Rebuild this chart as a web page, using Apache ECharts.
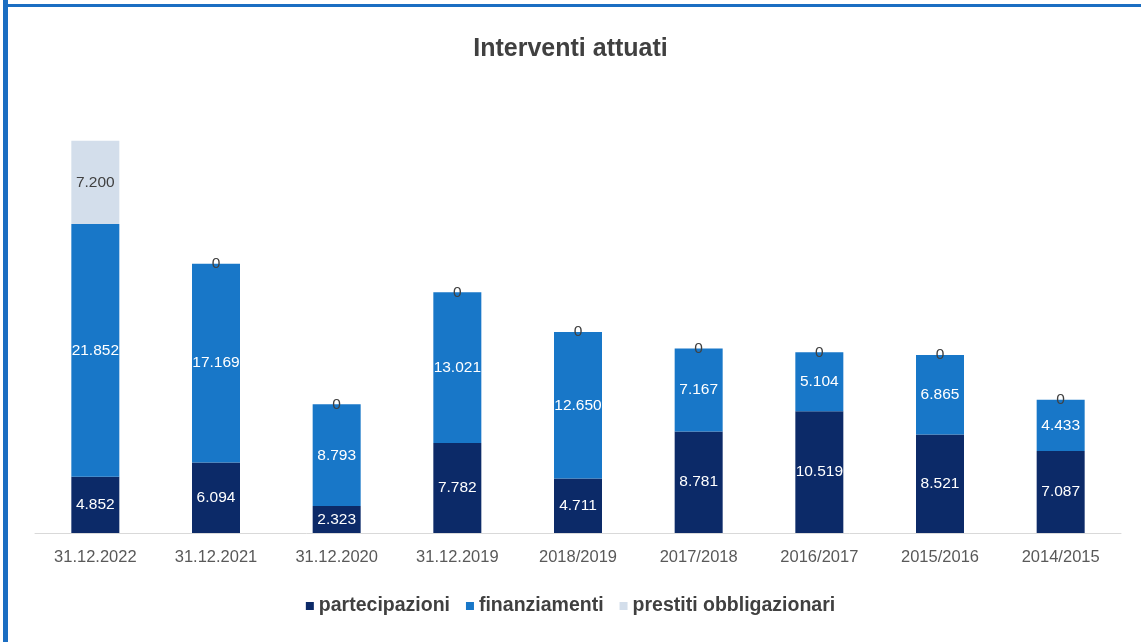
<!DOCTYPE html>
<html>
<head>
<meta charset="utf-8">
<script src="https://cdn.jsdelivr.net/npm/echarts@6/dist/echarts.min.js"></script>
<style>
html,body{margin:0;padding:0;background:#fff;}
#c{width:1141px;height:642px;}
</style>
</head>
<body>
<div id="c"></div>
<script>
const categories = ['31.12.2022','31.12.2021','31.12.2020','31.12.2019','2018/2019','2017/2018','2016/2017','2015/2016','2014/2015'];
const partecipazioni = [4852, 6094, 2323, 7782, 4711, 8781, 10519, 8521, 7087];
const finanziamenti = [21852, 17169, 8793, 13021, 12650, 7167, 5104, 6865, 4433];
const prestiti = [7200, 0, 0, 0, 0, 0, 0, 0, 0];
const seriesNames = ['partecipazioni','finanziamenti','prestiti obbligazionari'];

const FONT = "'Liberation Sans Narrow', 'Liberation Sans', Arial, sans-serif";
function fmt(v){ return String(v).replace(/\B(?=(\d{3})+(?!\d))/g, '.'); }

const chart = echarts.init(document.getElementById('c'), null, {renderer:'canvas'});
const colors = ['#0c2a68', '#1877c8', '#d3deeb'];
const labelColors = ['#ffffff', '#ffffff', '#404040'];
const datas = [partecipazioni, finanziamenti, prestiti];

chart.setOption({
  animation: false,
  backgroundColor: '#ffffff',
  title: {
    text: 'Interventi attuati',
    left: 'center',
    top: 32,
    textStyle: {fontFamily: FONT, fontSize: 25, fontWeight: 'bold', color: '#404040'}
  },
  legend: {
    bottom: 21,
    left: 'center',
    itemWidth: 8,
    itemHeight: 8,
    itemGap: 16,
    icon: 'rect',
    textStyle: {fontFamily: FONT, fontSize: 19.5, fontWeight: 'bold', color: '#404040', padding: [0,0,0,0]},
    data: seriesNames
  },
  grid: {left: 35, right: 20, top: 128, bottom: 109, containLabel: false},
  xAxis: {
    type: 'category',
    data: categories,
    axisTick: {show: false},
    axisLine: {lineStyle: {color: '#d9d9d9', width: 1}},
    axisLabel: {fontFamily: FONT, fontSize: 16.5, color: '#595959', margin: 16}
  },
  yAxis: {
    type: 'value', min: 0, max: 35000, show: false,
    splitLine: {show: false}
  },
  series: datas.map((d, i) => ({
    name: seriesNames[i],
    type: 'bar',
    stack: 'tot',
    barWidth: 48,
    data: d,
    itemStyle: {color: colors[i]},
    label: {
      show: true,
      position: 'inside',
      fontFamily: FONT,
      fontSize: 15.5,
      color: labelColors[i],
      formatter: p => fmt(p.value)
    }
  })),
  graphic: [
    {type: 'rect', shape: {x: 3, y: 0, width: 5, height: 642}, style: {fill: '#1b6ec2'}, z: 100},
    {type: 'rect', shape: {x: 3, y: 4, width: 1138, height: 3}, style: {fill: '#1b6ec2'}, z: 100}
  ]
});
</script>
</body>
</html>
